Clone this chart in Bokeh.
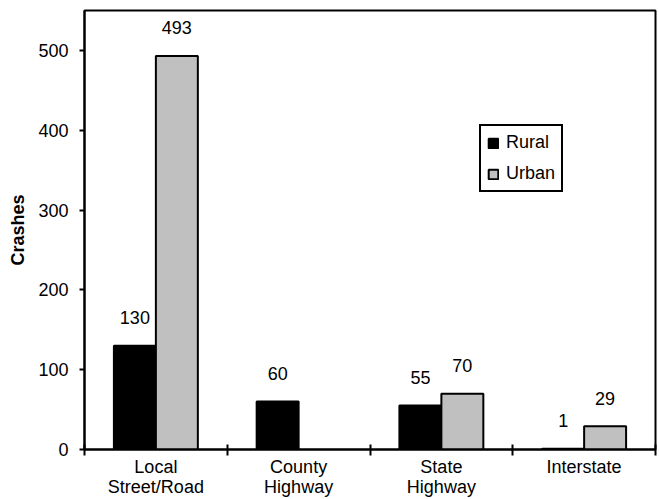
import numpy as np
from bokeh.plotting import figure
from bokeh.models import ColumnDataSource, FixedTicker, LabelSet, Range1d
from bokeh.core.properties import value
from bokeh.transform import dodge
from bokeh.embed import file_html
from bokeh.resources import INLINE

categories = ["Local\nStreet/Road", "County\nHighway", "State\nHighway", "Interstate"]
rural = [130, 60, 55, 1]
urban = [493, np.nan, 70, 29]   # no urban bar for County Highway
y_ticks = [0, 100, 200, 300, 400, 500]

FONT = "Liberation Sans"
FS = "18px"
GRAY = "#c0c0c0"
BW = 0.294

xc = np.arange(len(categories)) + 0.5
src = ColumnDataSource(dict(x=xc, rural=rural, urban=urban))

p = figure(width=657, height=499, output_backend="svg", toolbar_location=None,
           x_range=Range1d(0, len(categories)), y_range=Range1d(0, 550),
           min_border_left=84, min_border_top=10, min_border_right=2, min_border_bottom=40)

p.vbar(x=dodge("x", -BW / 2), top="rural", width=BW, source=src,
       fill_color="black", line_color="black", line_width=2, legend_label="Rural")
p.vbar(x=dodge("x", BW / 2), top="urban", width=BW, source=src,
       fill_color=GRAY, line_color="black", line_width=2, legend_label="Urban")

# value labels
lx, ly, lt = [], [], []
for i, (r, u) in enumerate(zip(rural, urban)):
    if not np.isnan(r):
        lx.append(xc[i] - BW / 2); ly.append(r); lt.append(str(int(r)))
    if not np.isnan(u):
        lx.append(xc[i] + BW / 2); ly.append(u); lt.append(str(int(u)))
lsrc = ColumnDataSource(dict(x=lx, y=ly, t=lt))
p.add_layout(LabelSet(x="x", y="y", text="t", source=lsrc, y_offset=28,
                      text_align="center", text_baseline="middle",
                      text_font=value(FONT), text_font_size=value(FS), text_color="black"))

# axes
p.xgrid.visible = False
p.ygrid.visible = False
p.outline_line_color = "black"
p.outline_line_width = 2

xa = p.xaxis[0]
xa.ticker = FixedTicker(ticks=list(xc), minor_ticks=list(range(len(categories) + 1)))
xa.major_label_overrides = {float(v): c for v, c in zip(xc, categories)}
xa.major_tick_line_color = None
xa.major_tick_in = 0
xa.major_tick_out = 0
xa.minor_tick_in = 5
xa.minor_tick_out = 6
xa.minor_tick_line_color = "black"
xa.minor_tick_line_width = 2
xa.axis_line_width = 2
xa.major_label_text_font = FONT
xa.major_label_text_font_size = FS
xa.major_label_text_color = "black"
xa.major_label_text_line_height = 1.0
xa.major_label_standoff = 1

ya = p.yaxis[0]
ya.ticker = FixedTicker(ticks=y_ticks)
ya.minor_tick_line_color = None
ya.major_tick_in = 0
ya.major_tick_out = 5
ya.major_tick_line_width = 2
ya.axis_line_width = 2
ya.major_label_text_font = FONT
ya.major_label_text_font_size = FS
ya.major_label_text_color = "black"
ya.major_label_standoff = 11
ya.axis_label = "Crashes"
ya.axis_label_text_font = FONT
ya.axis_label_text_font_size = FS
ya.axis_label_text_font_style = "bold"
ya.axis_label_text_color = "black"
ya.axis_label_standoff = 7

lg = p.legend[0]
lg.location = (395, 257)
lg.border_line_color = "black"
lg.border_line_alpha = 1
lg.border_line_width = 2
lg.padding = 6
lg.spacing = 10
lg.margin = 0
lg.glyph_width = 12
lg.glyph_height = 12
lg.label_standoff = 7
lg.label_text_font = FONT
lg.label_text_font_size = FS
lg.label_text_color = "black"
lg.label_height = 20
lg.background_fill_alpha = 1

open("out.html", "w").write(file_html(p, INLINE))
